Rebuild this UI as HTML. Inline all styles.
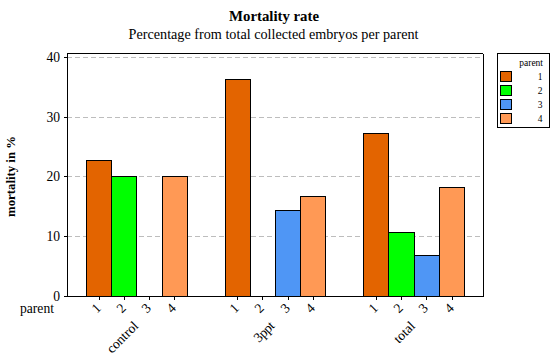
<!DOCTYPE html>
<html><head><meta charset="utf-8"><style>
html,body{margin:0;padding:0;background:#fff;width:557px;height:364px;overflow:hidden}
svg{display:block}
text{font-family:"Liberation Serif",serif;fill:#000}
.t13{font-size:13.6px}
.yt{font-size:12.8px;font-weight:bold}
.title{font-size:14.8px;font-weight:bold}
.sub{font-size:14.2px}
.leg{font-size:9.5px}
</style></head><body>
<svg width="557" height="364" viewBox="0 0 557 364">
<rect width="557" height="364" fill="#fff"/>
<g shape-rendering="crispEdges">
<line x1="67" y1="57.5" x2="483" y2="57.5" stroke="#BDBDBD" stroke-dasharray="5,3"/>
<line x1="67" y1="117.5" x2="483" y2="117.5" stroke="#BDBDBD" stroke-dasharray="5,3"/>
<line x1="67" y1="176.5" x2="483" y2="176.5" stroke="#BDBDBD" stroke-dasharray="5,3"/>
<line x1="67" y1="236.5" x2="483" y2="236.5" stroke="#BDBDBD" stroke-dasharray="5,3"/>
<rect x="86.5" y="160.5" width="25" height="136" fill="#E36400" stroke="#000"/>
<rect x="111.5" y="176.5" width="25" height="120" fill="#00FF00" stroke="#000"/>
<rect x="162.5" y="176.5" width="25" height="120" fill="#FF9955" stroke="#000"/>
<rect x="225.5" y="79.5" width="25" height="217" fill="#E36400" stroke="#000"/>
<rect x="275.5" y="210.5" width="25" height="86" fill="#4F96F5" stroke="#000"/>
<rect x="300.5" y="196.5" width="25" height="100" fill="#FF9955" stroke="#000"/>
<rect x="363.5" y="133.5" width="25" height="163" fill="#E36400" stroke="#000"/>
<rect x="388.5" y="232.5" width="26" height="64" fill="#00FF00" stroke="#000"/>
<rect x="414.5" y="255.5" width="25" height="41" fill="#4F96F5" stroke="#000"/>
<rect x="439.5" y="187.5" width="25" height="109" fill="#FF9955" stroke="#000"/>
<path d="M67.5 296.5V53.5H482.5M483.5 54V296.5H67" fill="none" stroke="#000"/>
<line x1="64" y1="57.5" x2="67" y2="57.5" stroke="#000"/>
<line x1="64" y1="117.5" x2="67" y2="117.5" stroke="#000"/>
<line x1="64" y1="176.5" x2="67" y2="176.5" stroke="#000"/>
<line x1="64" y1="236.5" x2="67" y2="236.5" stroke="#000"/>
<line x1="64" y1="296.5" x2="67" y2="296.5" stroke="#000"/>
<line x1="99.5" y1="297" x2="99.5" y2="300" stroke="#000"/>
<line x1="124.5" y1="297" x2="124.5" y2="300" stroke="#000"/>
<line x1="149.5" y1="297" x2="149.5" y2="300" stroke="#000"/>
<line x1="174.5" y1="297" x2="174.5" y2="300" stroke="#000"/>
<line x1="237.5" y1="297" x2="237.5" y2="300" stroke="#000"/>
<line x1="262.5" y1="297" x2="262.5" y2="300" stroke="#000"/>
<line x1="288.5" y1="297" x2="288.5" y2="300" stroke="#000"/>
<line x1="313.5" y1="297" x2="313.5" y2="300" stroke="#000"/>
<line x1="376.5" y1="297" x2="376.5" y2="300" stroke="#000"/>
<line x1="401.5" y1="297" x2="401.5" y2="300" stroke="#000"/>
<line x1="426.5" y1="297" x2="426.5" y2="300" stroke="#000"/>
<line x1="452.5" y1="297" x2="452.5" y2="300" stroke="#000"/>
<rect x="497.5" y="53.5" width="52" height="74" fill="#fff" stroke="#000"/>
<rect x="500.5" y="71.5" width="11" height="10" fill="#E36400" stroke="#000"/>
<rect x="500.5" y="85.5" width="11" height="10" fill="#00FF00" stroke="#000"/>
<rect x="500.5" y="99.5" width="11" height="10" fill="#4F96F5" stroke="#000"/>
<rect x="500.5" y="113.5" width="11" height="10" fill="#FF9955" stroke="#000"/>
</g>
<text x="60" y="61.6" text-anchor="end" class="t13">40</text>
<text x="60" y="121.6" text-anchor="end" class="t13">30</text>
<text x="60" y="180.6" text-anchor="end" class="t13">20</text>
<text x="60" y="240.6" text-anchor="end" class="t13">10</text>
<text x="60" y="300.6" text-anchor="end" class="t13">0</text>
<text transform="translate(99,306) rotate(-45)" text-anchor="end" dy="4" class="t13">1</text>
<text transform="translate(124,306) rotate(-45)" text-anchor="end" dy="4" class="t13">2</text>
<text transform="translate(149,306) rotate(-45)" text-anchor="end" dy="4" class="t13">3</text>
<text transform="translate(174,306) rotate(-45)" text-anchor="end" dy="4" class="t13">4</text>
<text transform="translate(237,306) rotate(-45)" text-anchor="end" dy="4" class="t13">1</text>
<text transform="translate(262,306) rotate(-45)" text-anchor="end" dy="4" class="t13">2</text>
<text transform="translate(288,306) rotate(-45)" text-anchor="end" dy="4" class="t13">3</text>
<text transform="translate(313,306) rotate(-45)" text-anchor="end" dy="4" class="t13">4</text>
<text transform="translate(376,306) rotate(-45)" text-anchor="end" dy="4" class="t13">1</text>
<text transform="translate(401,306) rotate(-45)" text-anchor="end" dy="4" class="t13">2</text>
<text transform="translate(426,306) rotate(-45)" text-anchor="end" dy="4" class="t13">3</text>
<text transform="translate(452,306) rotate(-45)" text-anchor="end" dy="4" class="t13">4</text>
<text transform="translate(136.3,324) rotate(-45)" text-anchor="end" dy="4" class="t13">control</text>
<text transform="translate(272.5,324) rotate(-45)" text-anchor="end" dy="4" class="t13" letter-spacing="-0.3">3ppt</text>
<text transform="translate(413.2,324) rotate(-45)" text-anchor="end" dy="4" class="t13">total</text>
<text x="20" y="312.5" class="t13">parent</text>
<text transform="translate(15.3,176.5) rotate(-90)" text-anchor="middle" class="yt">mortality in %</text>
<text x="274" y="21" text-anchor="middle" class="title">Mortality rate</text>
<text x="273.5" y="39" text-anchor="middle" class="sub">Percentage from total collected embryos per parent</text>
<text x="543" y="66" text-anchor="end" class="leg">parent</text>
<text x="542.5" y="80" text-anchor="end" class="leg">1</text>
<text x="542.5" y="94" text-anchor="end" class="leg">2</text>
<text x="542.5" y="108" text-anchor="end" class="leg">3</text>
<text x="542.5" y="122" text-anchor="end" class="leg">4</text>
</svg>
</body></html>
